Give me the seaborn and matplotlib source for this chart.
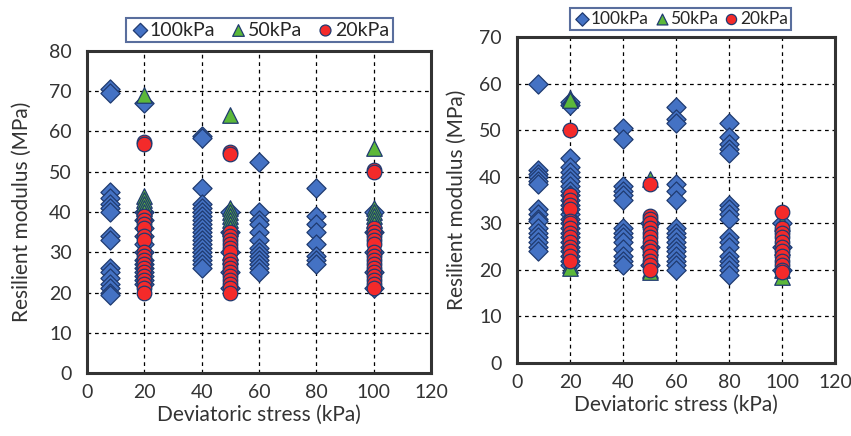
import matplotlib
matplotlib.use("Agg")
import matplotlib.pyplot as plt
import seaborn as sns
import pandas as pd

# ---------------- data ----------------
# Left panel: resilient modulus (MPa) per deviatoric stress (kPa)
left_100kPa = {
    8: [70.5, 69.5, 45, 43.5, 42, 41, 40, 34, 33, 26, 25, 23.5, 22, 21, 20, 19.5],
    20: [67, 40, 38, 36, 34, 32, 30, 28, 27, 26, 25, 24, 23, 22],
    40: [59, 58.5, 46, 42, 41, 40, 39, 38, 37, 36, 35, 34, 33, 32, 31, 30, 29, 28, 27, 26],
    50: [40, 35, 30, 25, 21],
    60: [52.5, 40, 38, 37, 35, 33, 31, 30, 29, 28, 27, 26, 25],
    80: [46, 39, 37, 35, 32, 29, 28, 27],
    100: [40, 35, 30, 25, 21],
}
left_50kPa = {
    20: [69, 44, 43, 42, 41, 40, 30, 29, 28],
    50: [64, 41, 40, 39, 38, 37, 36, 30, 29],
    100: [56, 41, 40, 39, 38, 37],
}
left_20kPa = {
    20: [57.5, 57, 39, 38, 37, 36, 34, 33, 30, 29, 28, 27, 26, 25, 24, 23, 22, 21, 20],
    50: [55, 54.5, 35, 34, 33, 32, 31, 30, 28, 27, 26, 25, 24, 23, 22, 21, 20],
    100: [50.5, 50, 36, 35, 34, 33, 32, 30, 29, 28, 27, 26, 25, 24, 23, 22, 21],
}
# Right panel
right_100kPa = {
    8: [60, 41.5, 40.5, 40, 39, 38.5, 33, 32, 31, 30.5, 29, 28, 27, 26, 25, 24],
    20: [56, 55.5, 44, 42, 41, 40, 39, 38, 37, 36, 35, 34, 33, 32, 31, 30, 29, 28, 27,
         26, 25, 24, 23, 22, 21],
    40: [50.5, 48, 38, 37, 36, 35, 29, 28, 27, 26, 24.5, 23, 22, 21],
    50: [30, 25, 21],
    60: [55, 52.5, 51.5, 38.5, 37, 35, 29, 28, 27, 26, 25, 24, 23, 22, 21, 20],
    80: [51.5, 48.5, 47, 46, 45, 34, 33, 32, 31, 27, 26, 25, 23, 22, 21, 20, 19],
    100: [30, 25, 20],
}
right_50kPa = {
    20: [57, 56.5, 36, 34, 21, 20.5],
    50: [39.5, 31, 25, 20, 19.5],
    100: [30, 25, 20, 18.5],
}
right_20kPa = {
    20: [50, 36, 35, 34, 33, 30.5, 30, 29, 28, 27, 26, 25, 24, 23, 22],
    50: [38.5, 31.5, 31, 30, 29, 28, 27, 26, 25, 24, 23, 22, 21, 20],
    100: [32.5, 29, 28, 27, 26, 25, 24, 23, 22, 21, 20, 19.5],
}

series_labels = ["100kPa", "50kPa", "20kPa"]
x_ticks = [0, 20, 40, 60, 80, 100, 120]
left_y_ticks = [0, 10, 20, 30, 40, 50, 60, 70, 80]
right_y_ticks = [0, 10, 20, 30, 40, 50, 60, 70]
x_label = "Deviatoric stress (kPa)"
y_label = "Resilient modulus (MPa)"


def to_frame(d):
    rows = [(x, v) for x, vals in d.items() for v in vals]
    return pd.DataFrame(rows, columns=["stress", "modulus"])


# ---------------- styling ----------------
sns.set_theme(style="white")
plt.rcParams["font.family"] = ["Lato", "DejaVu Sans"]

EDGE = "#1F3A70"
styles = {
    "100kPa": dict(marker="D", color="#4472C4", s=95),
    "50kPa": dict(marker="^", color="#5CB83A", s=125),
    "20kPa": dict(marker="o", color="#F42A2A", s=110),
}

fig = plt.figure(figsize=(8.51, 4.36), dpi=100)
axL = fig.add_axes([87 / 851, 1 - 373 / 436, 344 / 851, 322 / 436])
axR = fig.add_axes([517 / 851, 1 - 363 / 436, 318 / 851, 326 / 436])

panels = [
    (axL, [left_100kPa, left_50kPa, left_20kPa], left_y_ticks, 80,
     (259.5 / 851, 1 - 30 / 436), 14, 12, 0.75, 0.7),
    (axR, [right_100kPa, right_50kPa, right_20kPa], right_y_ticks, 70,
     (680.5 / 851, 1 - 19 / 436), 12.5, 9, 0.7, 0.25),
]

for ax, data, yticks, ymax, leg_xy, leg_fs, ylpad, mscale, colsp in panels:
    for lab, d in zip(series_labels, data):
        st = styles[lab]
        sns.scatterplot(data=to_frame(d), x="stress", y="modulus", ax=ax,
                        marker=st["marker"], color=st["color"], s=st["s"],
                        edgecolor=EDGE, linewidth=0.9, label=lab, zorder=3)
    ax.set_xlim(0, 120)
    ax.set_ylim(0, ymax)
    ax.set_xticks(x_ticks)
    ax.set_yticks(yticks)
    ax.grid(True, color="black", linestyle=(0, (3, 3)), linewidth=0.9)
    ax.set_axisbelow(True)
    for sp in ax.spines.values():
        sp.set_visible(True)
        sp.set_color("#333333")
        sp.set_linewidth(2.2)
    ax.tick_params(axis="both", length=0, labelsize=14, colors="#333333")
    ax.tick_params(axis="y", pad=11)
    ax.tick_params(axis="x", pad=8)
    ax.set_xlabel(x_label, fontsize=15, color="#333333", labelpad=3)
    ax.set_ylabel(y_label, fontsize=15, color="#333333", labelpad=ylpad)
    handles, labels = ax.get_legend_handles_labels()
    leg = ax.legend(handles, labels, loc="center", ncol=3,
                    bbox_to_anchor=leg_xy, bbox_transform=fig.transFigure,
                    fontsize=leg_fs, frameon=True, fancybox=False,
                    handletextpad=0.0, columnspacing=colsp, borderpad=0.2,
                    handlelength=1.0, borderaxespad=0, markerscale=mscale)
    fr = leg.get_frame()
    fr.set_edgecolor("#2F4A85")
    fr.set_linewidth(1.5)
    leg.set_zorder(10)

fig.savefig("out.png", dpi=100)
